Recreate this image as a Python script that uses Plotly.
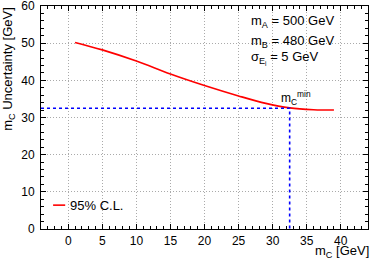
import plotly.graph_objects as go

mc = [1, 5, 10, 15, 20, 25, 29, 32.5, 36, 39]
unc = [50.2, 48.2, 45.2, 41.7, 38.6, 35.8, 33.8, 32.6, 32.1, 32.0]
mc_min = 32.5
unc_min = 32.5
x_range = [-4, 44]
y_range = [0, 60]

FONT = "Liberation Sans, Arial, sans-serif"

fig = go.Figure()
fig.add_trace(go.Scatter(x=mc, y=unc, mode="lines", line=dict(color="#ff0000", width=1.6, shape="spline"),
                         showlegend=False))
fig.add_trace(go.Scatter(x=[x_range[0], mc_min, mc_min], y=[unc_min, unc_min, y_range[0]], mode="lines",
                         line=dict(color="#0000ff", width=1.6, dash="dot"), showlegend=False))

axis_common = dict(
    showline=True, linecolor="black", linewidth=1, mirror="allticks", automargin=False,
    ticks="inside", ticklen=5, tickcolor="black", tickwidth=1, ticklabeloverflow="allow",
    showgrid=True, gridcolor="#aaaaaa", griddash="1px,2px", gridwidth=1,
    zeroline=False, tickfont=dict(family=FONT, size=12, color="black"),
)
fig.update_xaxes(range=x_range, dtick=5, tick0=0, ticklabelstandoff=1,
                 minor=dict(dtick=1, ticklen=3, ticks="inside", tickcolor="black", showgrid=False),
                 **axis_common)
fig.update_yaxes(range=y_range, dtick=10, tick0=0, ticklabelstandoff=3,
                 minor=dict(dtick=2, ticklen=3, ticks="inside", tickcolor="black", showgrid=False),
                 **axis_common)

ann_font = dict(family=FONT, size=13, color="black")
fig.add_annotation(x=26.5, y=55.7, text="m<sub>A</sub> = 500 GeV", showarrow=False, xanchor="left", font=ann_font)
fig.add_annotation(x=26.5, y=50.5, text="m<sub>B</sub> = 480 GeV", showarrow=False, xanchor="left", font=ann_font)
fig.add_annotation(x=26.5, y=46.0, text="σ<sub>E<sub>i</sub></sub> = 5 GeV", showarrow=False, xanchor="left", font=ann_font)
fig.add_annotation(x=31.0, y=35.3, text="m<sub>C</sub><sup>min</sup>", showarrow=False, xanchor="left", font=dict(family=FONT, size=12, color="black"))

# legend
fig.add_shape(type="line", xref="paper", yref="paper", x0=0.037, x1=0.074, y0=0.107, y1=0.107,
              line=dict(color="#ff0000", width=1.6))
fig.add_annotation(xref="paper", yref="paper", x=0.083, y=0.107, text="95% C.L.", showarrow=False,
                   xanchor="left", yanchor="middle", font=ann_font)

# axis titles
fig.add_annotation(xref="paper", yref="paper", x=-0.098, y=1.005, text="m<sub>C</sub> Uncertainty [GeV]",
                   textangle=-90, showarrow=False, xanchor="center", yanchor="top", font=ann_font)
fig.add_annotation(xref="paper", yref="paper", x=1.008, y=-0.055, text="m<sub>C</sub> [GeV]",
                   showarrow=False, xanchor="right", yanchor="top", font=ann_font)

fig.update_layout(width=374, height=260, margin=dict(l=41, r=6, t=6, b=31),
                  plot_bgcolor="white", paper_bgcolor="white", showlegend=False)
fig.write_html("out.html", config={"displayModeBar": False},
               post_script="document.body.style.margin='0px';")
